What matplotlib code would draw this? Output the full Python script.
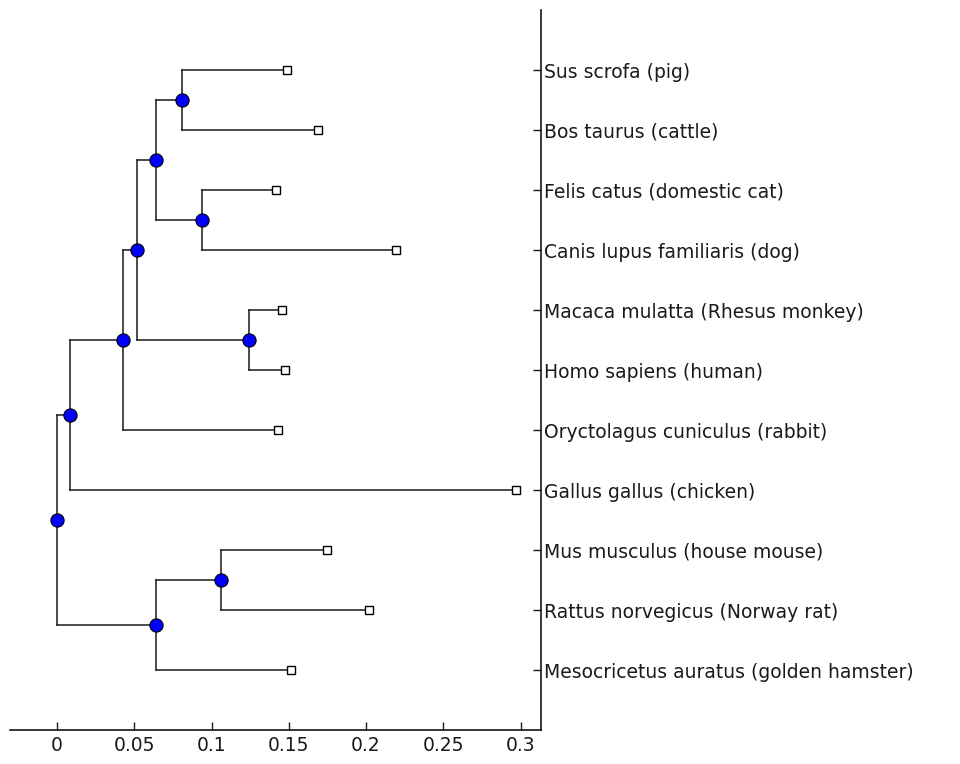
import matplotlib
matplotlib.use("Agg")
import matplotlib.pyplot as plt
import numpy as np

# 叶子名称 (从上到下)
leaf_names = [
    "Sus scrofa (pig)",
    "Bos taurus (cattle)",
    "Felis catus (domestic cat)",
    "Canis lupus familiaris (dog)",
    "Macaca mulatta (Rhesus monkey)",
    "Homo sapiens (human)",
    "Oryctolagus cuniculus (rabbit)",
    "Gallus gallus (chicken)",
    "Mus musculus (house mouse)",
    "Rattus norvegicus (Norway rat)",
    "Mesocricetus auratus (golden hamster)",
]
# 叶子距离
leaf_dist = [0.1491, 0.1688, 0.1417, 0.2194, 0.1454, 0.1478, 0.1429, 0.2968, 0.1747, 0.2021, 0.1514]

# 内部节点: 子节点编号 (0-10 叶子, 11 以后为内部节点) 和 距离
branch_a = [0, 2, 11, 4, 13, 15, 16, 8, 18, 17]
branch_b = [1, 3, 12, 5, 14, 6, 7, 9, 10, 19]
branch_dist = [0.0812, 0.0937, 0.064, 0.1242, 0.0516, 0.043, 0.0086, 0.1061, 0.064, 0.0]

x_ticks = [0, 0.05, 0.1, 0.15, 0.2, 0.25, 0.3]

n_leaf = len(leaf_names)
node_x = list(leaf_dist)
node_y = list(np.arange(1, n_leaf + 1, dtype=float))
for a, b, d in zip(branch_a, branch_b, branch_dist):
    node_x.append(d)
    node_y.append((node_y[a] + node_y[b]) / 2.0)

fig = plt.figure(figsize=(9.6, 7.64), dpi=100)
ax = fig.add_axes([10 / 960, 34 / 764, 531 / 960, 720 / 764])

# 树枝
for i, (a, b) in enumerate(zip(branch_a, branch_b)):
    k = n_leaf + i
    px = node_x[k]
    ax.plot([px, px], [node_y[a], node_y[b]], color="#1a1a1a", lw=1.1, zorder=1)
    for c in (a, b):
        ax.plot([px, node_x[c]], [node_y[c], node_y[c]], color="#1a1a1a", lw=1.1, zorder=1)

# 叶子 和 内部节点
ax.plot(node_x[:n_leaf], node_y[:n_leaf], "s", ms=5.5, mfc="white", mec="black", mew=1, ls="none", zorder=3)
ax.plot(node_x[n_leaf:], node_y[n_leaf:], "o", ms=9.5, mfc="#0000ff", mec="black", mew=0.8, ls="none", zorder=3)

ax.set_xlim(-0.0304, 0.3132)
ax.set_ylim(n_leaf + 1, 0)
ax.set_xticks(x_ticks)
ax.set_xticklabels([("%g" % t) for t in x_ticks])
ax.set_yticks(np.arange(1, n_leaf + 1))
ax.set_yticklabels(leaf_names)

ax.spines["top"].set_visible(False)
ax.spines["left"].set_visible(False)
ax.spines["bottom"].set_linewidth(1.1)
ax.spines["right"].set_linewidth(1.1)
ax.yaxis.tick_right()
ax.yaxis.set_label_position("right")
ax.tick_params(axis="both", direction="in", length=6, width=1, labelsize=13.5, pad=4, colors="#1a1a1a")
ax.tick_params(axis="y", pad=2)
for lbl in ax.get_xticklabels() + ax.get_yticklabels():
    lbl.set_family("DejaVu Sans")

fig.savefig("out.png", dpi=100)
